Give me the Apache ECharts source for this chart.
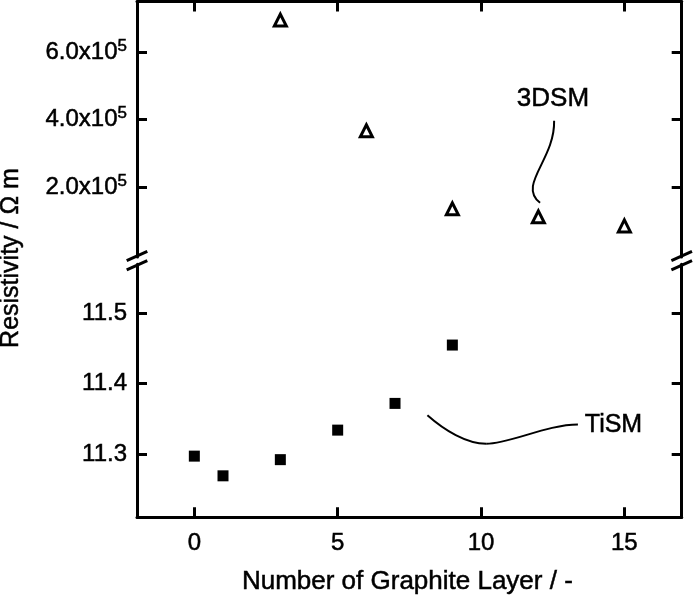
<!DOCTYPE html>
<html><head><meta charset="utf-8">
<script src="https://cdn.jsdelivr.net/npm/echarts@6/dist/echarts.min.js"></script>
<style>html,body{margin:0;padding:0;background:#fff}#c{width:694px;height:598px}</style>
</head><body><div id="c"></div>
<script>
// ---- data ----
const layers3DSM = [3, 6, 9, 12, 15];
const resist3DSM = [695000, 367000, 135700, 112000, 85000];
const layersTiSM = [0, 1, 3, 5, 7, 9];
const resistTiSM = [11.297, 11.269, 11.292, 11.334, 11.372, 11.455];
const xTicks = [0, 5, 10, 15];
const xTickLabels = ['0', '5', '10', '15'];
const topTicks = [200000, 400000, 600000];
const topTickLabels = ['2.0x10', '4.0x10', '6.0x10'];
const topTickExp = ['5', '5', '5'];
const bottomTicks = [11.3, 11.4, 11.5];
const bottomTickLabels = ['11.3', '11.4', '11.5'];
// annotation leader curves (data units)
const curve3DSM = [[12.55, 396400], [12.58, 280900], [11.26, 206800], [12.06, 153500]];
const curveTiSM = [[8.13, 11.355], [8.72, 11.3337], [9.49, 11.3145], [10.18, 11.3145], [11.0, 11.3145], [12.3, 11.342], [13.38, 11.342]];
const label3DSM = [12.51, 462000];
const labelTiSM = [13.62, 11.3415];

const FONT = '"Liberation Sans", Arial, Helvetica, sans-serif';
const AX = { color: '#000', width: 3 };
const TB = { textBorderColor: '#000', textBorderWidth: 0.5 };
const G0 = { left: 137, right: 12.3, top: 1.5, height: 255.5 };
const G1 = { left: 137, right: 12.3, top: 264.2, height: 253.1 };

const chart = echarts.init(document.getElementById('c'), null, { renderer: 'canvas' });

function xAxisDef(gridIndex, position, showLabels) {
  return {
    type: 'value', gridIndex, position, min: -2, max: 17,
    axisLine: { show: true, onZero: false, lineStyle: AX },
    axisTick: { show: true, inside: true, length: 10, lineStyle: AX, customValues: xTicks },
    axisLabel: Object.assign({
      show: showLabels, customValues: xTicks, margin: 14,
      fontFamily: FONT, fontSize: 24, color: '#000',
      formatter: v => xTickLabels[xTicks.indexOf(v)] ?? ''
    }, TB),
    splitLine: { show: false }
  };
}
function yAxisDef(gridIndex, position, min, max, ticks, showLabels, formatter, rich) {
  return {
    type: 'value', gridIndex, position, min, max,
    axisLine: { show: true, onZero: false, lineStyle: AX },
    axisTick: { show: true, inside: true, length: 10, lineStyle: AX, customValues: ticks },
    axisLabel: Object.assign({
      show: showLabels, customValues: ticks, margin: 10,
      fontFamily: FONT, fontSize: 24, color: '#000', formatter, rich
    }, TB),
    splitLine: { show: false }
  };
}
const richTop = {
  b: Object.assign({ fontFamily: FONT, fontSize: 24, color: '#000', lineHeight: 29 }, TB),
  s: Object.assign({ fontFamily: FONT, fontSize: 17, color: '#000', verticalAlign: 'top', lineHeight: 17 }, TB)
};
function topFmt(v) {
  const i = topTicks.findIndex(t => Math.abs(t - v) < 1);
  return i < 0 ? '' : '{b|' + topTickLabels[i] + '}{s|' + topTickExp[i] + '}';
}
function botFmt(v) {
  const i = bottomTicks.findIndex(t => Math.abs(t - v) < 1e-6);
  return i < 0 ? '' : bottomTickLabels[i];
}

chart.setOption({
  animation: false,
  backgroundColor: '#fff',
  grid: [G0, G1],
  xAxis: [xAxisDef(0, 'top', false), xAxisDef(1, 'bottom', true)],
  yAxis: [
    yAxisDef(0, 'left', -7000, 750000, topTicks, true, topFmt, richTop),
    yAxisDef(0, 'right', -7000, 750000, topTicks, false),
    yAxisDef(1, 'left', 11.21, 11.57, bottomTicks, true, botFmt),
    yAxisDef(1, 'right', 11.21, 11.57, bottomTicks, false)
  ],
  series: [
    {
      type: 'scatter', xAxisIndex: 0, yAxisIndex: 0,
      data: layers3DSM.map((x, i) => [x, resist3DSM[i]]),
      symbol: 'triangle', symbolSize: 12,
      itemStyle: { color: '#fff', borderColor: '#000', borderWidth: 3, opacity: 1 }
    },
    {
      type: 'scatter', xAxisIndex: 1, yAxisIndex: 2,
      data: layersTiSM.map((x, i) => [x, resistTiSM[i]]),
      symbol: 'rect', symbolSize: 11,
      itemStyle: { color: '#000', opacity: 1 }
    }
  ]
});

function px(finder, p) { return chart.convertToPixel(finder, p); }
const f0 = { xAxisIndex: 0, yAxisIndex: 0 };
const f1 = { xAxisIndex: 1, yAxisIndex: 2 };

const graphics = [];
// leader curves
const c3 = curve3DSM.map(p => px(f0, p));
graphics.push({ type: 'bezierCurve', silent: true,
  shape: { x1: c3[0][0], y1: c3[0][1], cpx1: c3[1][0], cpy1: c3[1][1], cpx2: c3[2][0], cpy2: c3[2][1], x2: c3[3][0], y2: c3[3][1] },
  style: { stroke: '#000', lineWidth: 2, fill: null } });
const ct = curveTiSM.map(p => px(f1, p));
for (let s = 0; s + 3 < ct.length; s += 3) {
  graphics.push({ type: 'bezierCurve', silent: true,
    shape: { x1: ct[s][0], y1: ct[s][1], cpx1: ct[s+1][0], cpy1: ct[s+1][1], cpx2: ct[s+2][0], cpy2: ct[s+2][1], x2: ct[s+3][0], y2: ct[s+3][1] },
    style: { stroke: '#000', lineWidth: 2, fill: null } });
}
function txt(text, x, y, size, align, rotation) {
  return { type: 'text', x, y, rotation: rotation || 0, silent: true,
    style: Object.assign({ text, font: size + 'px ' + FONT, fill: '#000', align, verticalAlign: 'middle', textAlign: align, textVerticalAlign: 'middle', stroke: '#000', lineWidth: 0.5 }) };
}
// annotation labels
const l3 = px(f0, label3DSM);
graphics.push(txt('3DSM', l3[0], l3[1], 26, 'center'));
const lt = px(f1, labelTiSM);
graphics.push(txt('TiSM', lt[0], lt[1], 25, 'left'));

// axis break marks
const gapY = (G0.top + G0.height + G1.top) / 2;
const leftX = G0.left, rightX = 694 - G0.right;
[leftX, rightX].forEach(cx => {
  [-4.6, 4.6].forEach(off => {
    graphics.push({ type: 'line', silent: true,
      shape: { x1: cx - 10.3, y1: gapY + off + 4.65, x2: cx + 10.3, y2: gapY + off - 4.65 },
      style: { stroke: '#000', lineWidth: 3 } });
  });
});

// axis titles
const plotCx = (G1.left + 694 - G1.right) / 2;
graphics.push(txt('Number of Graphite Layer / -', plotCx - 2, 582, 26, 'center'));
graphics.push(txt('Resistivity / \u03A9 m', 11, 258, 25, 'center', Math.PI / 2));

chart.setOption({ graphic: graphics });
</script>
</body></html>
